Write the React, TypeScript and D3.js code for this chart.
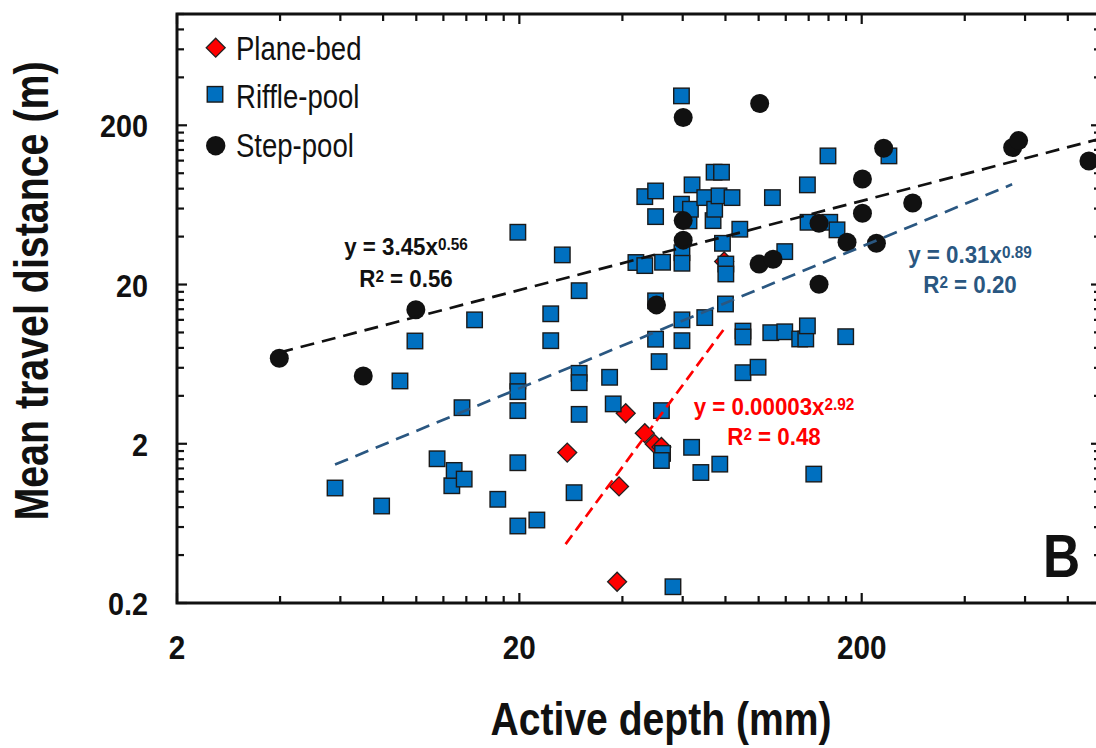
import React from "react";
import * as d3 from "d3";

// ---------- data (active depth in mm, mean travel distance in m) ----------
const planeBedDepth = [27.6, 38.6, 39.1, 40.9, 46.5, 49.7, 52.0, 79.3];
const planeBedDist = [1.76, 0.272, 1.08, 3.11, 2.33, 1.99, 1.91, 27.9];

const riffleDepth = [
  5.79, 7.92, 8.96, 9.91, 11.5, 12.7, 12.9, 13.6, 13.8, 14.8, 17.3, 19.8, 19.8, 19.8, 19.8, 19.8, 19.8,
  22.5, 24.7, 24.7, 26.7, 28.9, 29.9, 29.9, 29.9, 29.9, 36.7, 37.6, 43.8, 46.5, 46.5, 50.0, 50.0, 50.0,
  50.0, 51.2, 52.0, 52.4, 52.0, 52.4, 56.2, 59.5, 59.5, 59.7, 59.7, 59.7, 59.7, 62.6, 63.2, 63.7, 63.9,
  67.8, 69.6, 69.6, 73.6, 74.1, 74.4, 76.6, 77.0, 77.9, 78.4, 80.0, 80.2, 80.2, 83.6, 88.1, 90.0, 90.0,
  90.0, 99.6, 108.5, 109.7, 119.2, 119.2, 131.8, 137.3, 138.8, 138.8, 139.4, 144.9, 159.4, 161.3, 169.4,
  179.6, 240.2,
];
const riffleDist = [
  1.055, 0.813, 4.96, 8.84, 1.61, 1.09, 1.36, 3.37, 1.2, 12.0, 0.896, 42.6, 4.96, 4.25, 3.23, 1.52, 0.609,
  0.664, 13.1, 8.88, 30.7, 0.986, 18.3, 5.54, 4.84, 3.06, 5.23, 3.56, 27.5, 71.3, 26.3, 77.4, 53.4, 15.8,
  9.07, 6.56, 3.23, 1.74, 1.57, 27.6, 0.253, 306, 63.9, 31.7, 27.2, 12.0, 8.88, 50.2, 59.4, 1.9, 84.5,
  1.32, 70.3, 12.4, 50.4, 101.5, 59.4, 72.1, 1.49, 101.5, 36.3, 15.1, 26.9, 23.3, 70.3, 44.5, 10.2, 9.37,
  5.59, 6.05, 9.97, 70.3, 32.2, 10.1, 9.1, 9.1, 11.0, 84.5, 49.2, 1.29, 128.5, 49.2, 44.1, 9.41,
  128.5,
];

const stepDepth = [3.98, 7.0, 9.97, 50.3, 60.2, 60.2, 60.2, 100.7, 100.3, 110.2, 150.1, 150.1, 181.2, 201, 201, 220.8, 231.8, 281.8, 552, 574.6, 922];
const stepDist = [6.89, 5.33, 13.9, 14.9, 224, 50.4, 38.0, 274, 26.9, 28.8, 48.5, 20.1, 36.9, 92.1, 56.1, 36.3, 143.6, 65.1, 144.9, 160.3, 119.5];

// power-law fits y = a * x^b, drawn between x0 and x1
const fitNames = ["step", "riffle", "plane"];
const fitA = [3.45, 0.31, 0.00003];
const fitB = [0.56, 0.89, 2.92];
const fitX0 = [3.98, 5.79, 27.3];
const fitX1 = [1000, 550, 80];

const xTickLabels = [2, 20, 200];
const yTickLabels = [0.2, 2, 20, 200];
const legendLabels = ["Plane-bed", "Riffle-pool", "Step-pool"];

// ---------- style ----------
const W = 1096;
const H = 748;
const M = { left: 177, top: 14, right: 1101, bottom: 603 };
const FONT = "'Liberation Sans', Arial, Helvetica, sans-serif";
const INK = "#111111";
const BLUE_FILL = "#0070C0";
const RED = "#FF0000";
const FIT_BLUE = "#2A5781";
const fitColors = [INK, FIT_BLUE, RED];
const fitDash = ["14 8", "14 8", "11 6"];

function CText(props: {
  x: number; y: number; sx?: number; rot?: number; anchor?: string; size: number;
  weight?: string; fill?: string; children: React.ReactNode;
}) {
  const { x, y, sx = 1, rot = 0, anchor = "middle", size, weight = "bold", fill = INK, children } = props;
  return (
    <g transform={`translate(${x},${y}) rotate(${rot}) scale(${sx},1)`}>
      <text x={0} y={0} textAnchor={anchor as any} fontSize={size} fontWeight={weight} fill={fill} fontFamily={FONT}>
        {children}
      </text>
    </g>
  );
}

function logTicks(bases: number[], max: number) {
  const out: { v: number; major: boolean }[] = [];
  bases.forEach((b) => {
    for (let k = 1; k <= 9; k++) {
      const v = b * k;
      if (v <= max * 1.0001) out.push({ v, major: k === 1 });
    }
  });
  return out;
}

export default function App() {
  const x = d3.scaleLog().domain([2, 1000]).range([M.left, M.right]);
  const y = d3.scaleLog().domain([0.2, 1000]).range([M.bottom, M.top]);

  const xt = logTicks([2, 20, 200], 1000);
  const yt = logTicks([0.2, 2, 20, 200], 1000);

  const line = d3
    .line<[number, number]>()
    .x((d) => x(d[0]))
    .y((d) => y(d[1]));

  const plane = planeBedDepth.map((d, i) => [d, planeBedDist[i]]);
  const riffle = riffleDepth.map((d, i) => [d, riffleDist[i]]);
  const step = stepDepth.map((d, i) => [d, stepDist[i]]);

  const sq = 15.5;
  const dia = 13.4;
  const cr = 9.5;

  const supSize = 16.5;
  const supDy = -5.5;

  const eq = (coef: string, exp: string, r2: string, cx: number, b1: number, b2: number, fill: string) => (
    <g>
      <CText x={cx} y={b1} sx={0.93} size={24} fill={fill}>
        y = {coef}x
        <tspan fontSize={supSize} dy={supDy}>{exp}</tspan>
      </CText>
      <CText x={cx} y={b2} sx={0.93} size={24} fill={fill}>
        R<tspan fontSize={supSize} dy={supDy}>2</tspan>
        <tspan dy={-supDy}> = {r2}</tspan>
      </CText>
    </g>
  );

  return (
    <svg width={W} height={H} style={{ position: "absolute", left: 0, top: 0, background: "#fff" }}>
      <rect x={0} y={0} width={W} height={H} fill="#ffffff" />

      {/* plane-bed diamonds */}
      {plane.map((d, i) => (
        <rect
          key={"p" + i}
          x={-dia / 2}
          y={-dia / 2}
          width={dia}
          height={dia}
          transform={`translate(${x(d[0])},${y(d[1])}) rotate(45)`}
          fill={RED}
          stroke="#222"
          strokeWidth={1.3}
        />
      ))}
      {/* riffle-pool squares */}
      {riffle.map((d, i) => (
        <rect
          key={"r" + i}
          x={x(d[0]) - sq / 2}
          y={y(d[1]) - sq / 2}
          width={sq}
          height={sq}
          fill={BLUE_FILL}
          stroke="#1a1a1a"
          strokeWidth={1.4}
        />
      ))}
      {/* step-pool circles */}
      {step.map((d, i) => (
        <circle key={"s" + i} cx={x(d[0])} cy={y(d[1])} r={cr} fill={INK} />
      ))}

      {/* fit lines */}
      {fitNames.map((n, i) => {
        const pts: [number, number][] = [fitX0[i], fitX1[i]].map((xv) => [xv, fitA[i] * Math.pow(xv, fitB[i])]);
        return (
          <path
            key={n}
            d={line(pts) || ""}
            fill="none"
            stroke={fitColors[i]}
            strokeWidth={2.7}
            strokeDasharray={fitDash[i]}
          />
        );
      })}

      {/* frame */}
      <rect
        x={M.left}
        y={M.top}
        width={M.right - M.left}
        height={M.bottom - M.top}
        fill="none"
        stroke={INK}
        strokeWidth={3}
      />
      {/* ticks */}
      {xt.map((t, i) => {
        const px = x(t.v);
        const L = t.major ? 10 : 7;
        return (
          <g key={"xt" + i} stroke={INK} strokeWidth={2.2}>
            <line x1={px} x2={px} y1={M.bottom} y2={M.bottom - L} />
            <line x1={px} x2={px} y1={M.top} y2={M.top + L} />
          </g>
        );
      })}
      {yt.map((t, i) => {
        const py = y(t.v);
        const L = t.major ? 10 : 7;
        return (
          <g key={"yt" + i} stroke={INK} strokeWidth={2.2}>
            <line x1={M.left} x2={M.left + L} y1={py} y2={py} />
            <line x1={M.right} x2={M.right - L} y1={py} y2={py} />
          </g>
        );
      })}

      {/* tick labels */}
      {xTickLabels.map((v) => (
        <CText key={"xl" + v} x={x(v)} y={659} sx={0.9} size={33}>
          {String(v)}
        </CText>
      ))}
      {yTickLabels.map((v) => (
        <CText key={"yl" + v} x={148} y={y(v) + 12} sx={0.9} size={32} anchor="end">
          {String(v)}
        </CText>
      ))}

      {/* axis titles */}
      <CText x={661} y={735} sx={0.85} size={46}>
        Active depth (mm)
      </CText>
      <CText x={48} y={291} rot={-90} sx={0.82} size={48}>
        Mean travel distance (m)
      </CText>

      {/* legend */}
      <rect
        x={-dia / 2 * 1.0}
        y={-dia / 2 * 1.0}
        width={dia}
        height={dia}
        transform={`translate(215.7,47.7) rotate(45)`}
        fill={RED}
        stroke="#222"
        strokeWidth={1.3}
      />
      <rect x={215 - sq / 2} y={94.3 - sq / 2} width={sq} height={sq} fill={BLUE_FILL} stroke="#1a1a1a" strokeWidth={1.4} />
      <circle cx={215.7} cy={145.7} r={9.7} fill={INK} />
      {legendLabels.map((l, i) => (
        <CText key={l} x={236} y={[60, 108, 157][i]} sx={0.81} size={34} anchor="start" weight="normal">
          {l}
        </CText>
      ))}

      {/* equations */}
      {eq("3.45", "0.56", "0.56", 406, 255, 287, INK)}
      {eq("0.31", "0.89", "0.20", 970, 263, 293, FIT_BLUE)}
      {eq("0.00003", "2.92", "0.48", 774, 415, 445, RED)}

      {/* panel letter */}
      <CText x={1061.5} y={577} sx={0.83} size={62}>
        B
      </CText>
    </svg>
  );
}
